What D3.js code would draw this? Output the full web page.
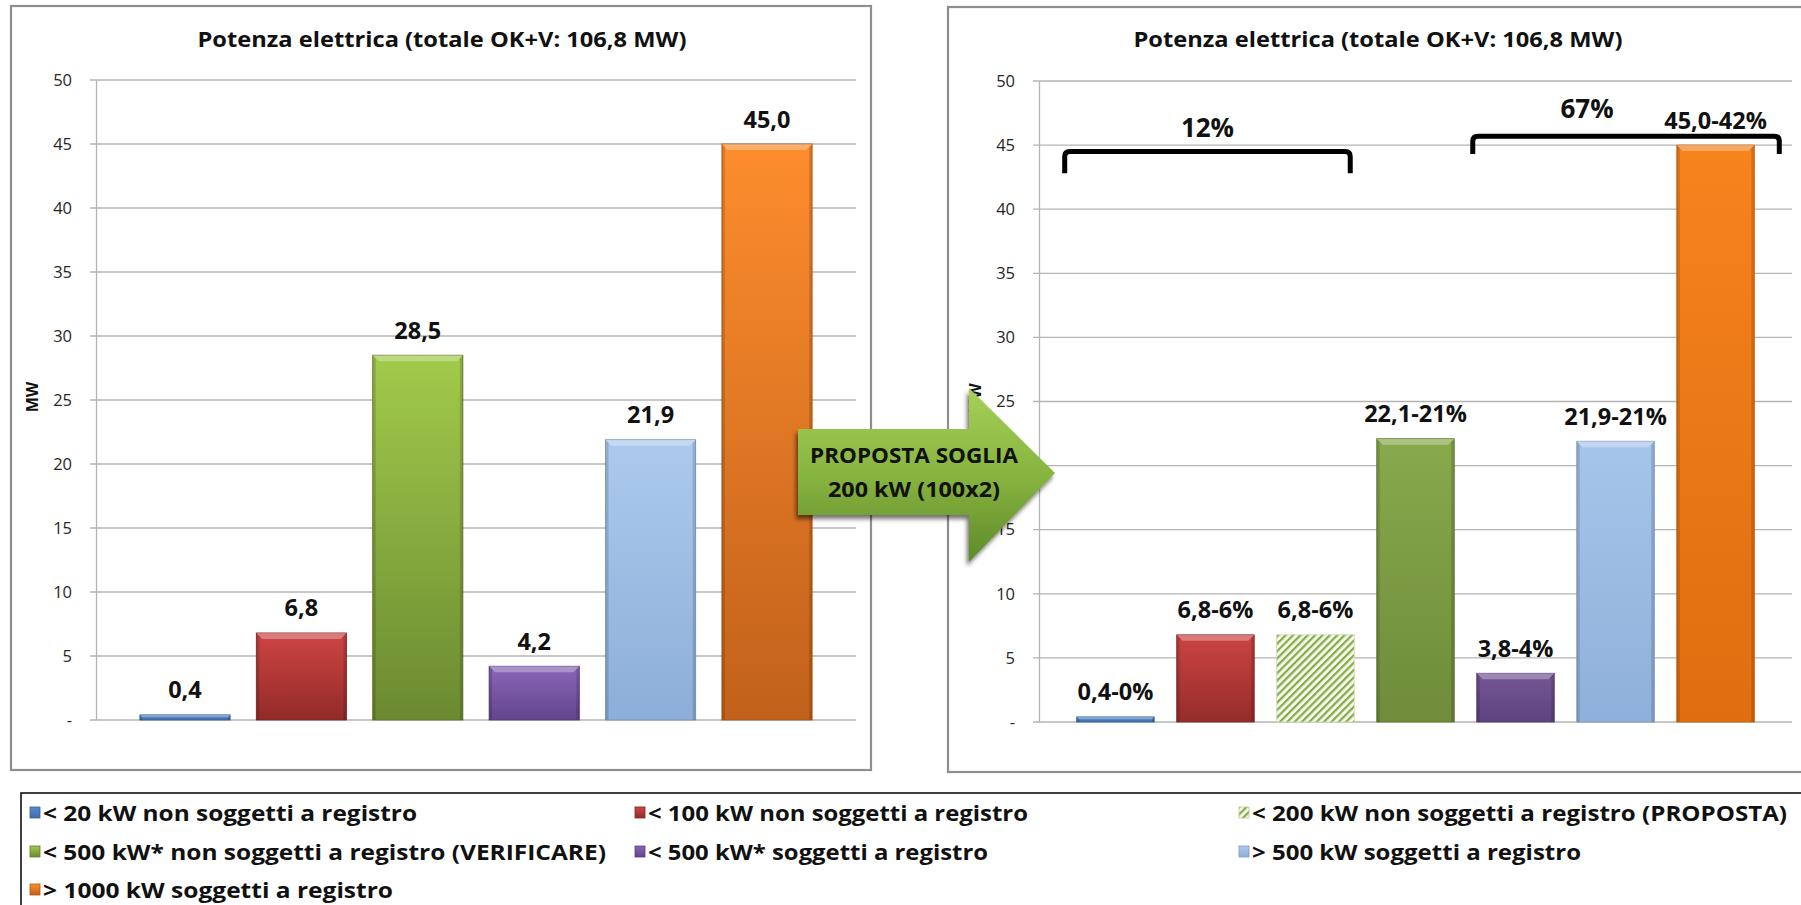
<!DOCTYPE html>
<html>
<head>
<meta charset="utf-8">
<script src="https://cdn.jsdelivr.net/npm/d3@7"></script>
<style>
  html, body { margin: 0; padding: 0; background: #fff; overflow: hidden; }
  svg { display: block; }
  text { font-family: "Open Sans", "Noto Sans", sans-serif; }
</style>
</head>
<body>
<svg id="chart" width="1801" height="905"></svg>
<script>
// ---- data ----
const categories = [
  "< 20 kW non soggetti a registro",
  "< 100 kW non soggetti a registro",
  "< 200 kW non soggetti a registro (PROPOSTA)",
  "< 500 kW* non soggetti a registro (VERIFICARE)",
  "< 500 kW* soggetti a registro",
  "> 500 kW soggetti a registro",
  "> 1000 kW soggetti a registro"
];
const currentCategories = [
  "< 20 kW non soggetti a registro",
  "< 100 kW non soggetti a registro",
  "< 500 kW* non soggetti a registro (VERIFICARE)",
  "< 500 kW* soggetti a registro",
  "> 500 kW soggetti a registro",
  "> 1000 kW soggetti a registro"
];
const currentValues = [0.4, 6.8, 28.5, 4.2, 21.9, 45.0];
const proposedCategories = categories;
const proposedValues = [0.4, 6.8, 6.8, 22.1, 3.8, 21.9, 45.0];
const proposedShares = [0, 6, 6, 21, 4, 21, 42];
const yTickValues = [0, 5, 10, 15, 20, 25, 30, 35, 40, 45, 50];
const chartTitle = "Potenza elettrica (totale OK+V: 106,8 MW)";
const yAxisTitle = "MW";
const groupLabels = ["12%", "67%"];
const arrowLines = ["PROPOSTA SOGLIA", "200 kW (100x2)"];

// ---- styles ----
const HATCHED = categories[2];
const palette = {
  [categories[0]]: { cur: ["#548bd0", "#3f6dab"], pro: ["#548bd0", "#3f6dab"] },
  [categories[1]]: { cur: ["#cd4543", "#922a28"], pro: ["#cb4442", "#952c2a"] },
  [categories[2]]: { cur: ["#9bbb59", "#9bbb59"], pro: ["#9bbb59", "#9bbb59"] },
  [categories[3]]: { cur: ["#a2ca4b", "#6b8a31"], pro: ["#88a94c", "#6e8c3a"] },
  [categories[4]]: { cur: ["#8b66b9", "#62458d"], pro: ["#755696", "#5d437f"] },
  [categories[5]]: { cur: ["#abcaed", "#8daed8"], pro: ["#a6c5ea", "#8fb0da"] },
  [categories[6]]: { cur: ["#fd8d2d", "#c1611b"], pro: ["#f6831e", "#e06d0f"] }
};
const gridColor = "#b4b4b4";
const frameColor = "#8e8e8e";

const fmt = d3.formatLocale({ decimal: ",", thousands: ".", grouping: [3], currency: ["", ""] }).format(".1f");

const svg = d3.select("#chart");
const defs = svg.append("defs");

// gradients for bars
categories.forEach((c, i) => {
  ["cur", "pro"].forEach(k => {
    const g = defs.append("linearGradient")
      .attr("id", `grad-${k}-${i}`)
      .attr("x1", 0).attr("y1", 0).attr("x2", 0).attr("y2", 1);
    g.append("stop").attr("offset", "0%").attr("stop-color", palette[c][k][0]);
    g.append("stop").attr("offset", "100%").attr("stop-color", palette[c][k][1]);
  });
});

// diagonal hatch for the proposed threshold bar
const hatch = defs.append("pattern")
  .attr("id", "hatch")
  .attr("patternUnits", "userSpaceOnUse")
  .attr("width", 5.2).attr("height", 10)
  .attr("patternTransform", "rotate(45)");
hatch.append("rect").attr("width", 5.2).attr("height", 10).attr("fill", "#f7faef");
hatch.append("rect").attr("width", 2.2).attr("height", 10).attr("fill", "#86ab45");

// arrow gradient + shadow
const ag = defs.append("linearGradient").attr("id", "arrowGrad")
  .attr("x1", 0).attr("y1", 0).attr("x2", 0).attr("y2", 1);
ag.append("stop").attr("offset", "0%").attr("stop-color", "#a6d157");
ag.append("stop").attr("offset", "55%").attr("stop-color", "#84b03e");
ag.append("stop").attr("offset", "100%").attr("stop-color", "#5e8a2a");
const sh = defs.append("filter").attr("id", "arrowShadow")
  .attr("x", "-20%").attr("y", "-20%").attr("width", "140%").attr("height", "150%");
sh.append("feDropShadow").attr("dx", -2).attr("dy", 4).attr("stdDeviation", 2.2)
  .attr("flood-color", "#000").attr("flood-opacity", 0.55);

function fillFor(c, key) {
  if (c === HATCHED) return "url(#hatch)";
  return `url(#grad-${key}-${categories.indexOf(c)})`;
}

// ---- one chart panel ----
function drawPanel(cfg) {
  const g = svg.append("g");

  g.append("rect")
    .attr("x", cfg.frame[0]).attr("y", cfg.frame[1])
    .attr("width", cfg.frame[2]).attr("height", cfg.frame[3])
    .attr("fill", "#fff").attr("stroke", frameColor).attr("stroke-width", 2.2);

  const x = d3.scaleBand().domain(cfg.cats)
    .range([cfg.left, cfg.right]).paddingInner(0.225).paddingOuter(0.377);
  const y = d3.scaleLinear().domain([0, 50]).range([cfg.bottom, cfg.top]);

  // horizontal gridlines (with outward tick stubs)
  g.append("g").selectAll("line").data(yTickValues).join("line")
    .attr("x1", cfg.left - 6).attr("x2", cfg.right)
    .attr("y1", d => y(d)).attr("y2", d => y(d))
    .attr("stroke", gridColor).attr("stroke-width", 1.3);

  // value axis
  const axis = g.append("g").attr("transform", `translate(${cfg.left},0)`)
    .call(d3.axisLeft(y).tickValues(yTickValues).tickSize(0).tickPadding(24)
      .tickFormat(d => d === 0 ? "-" : d));
  axis.select(".domain").attr("stroke", gridColor).attr("stroke-width", 1.3);
  axis.selectAll("text").attr("font-size", 16.5).attr("fill", "#262626")
    .style("font-family", "'Open Sans', sans-serif");
  // labels that sit fully under the arrow are not shown
  axis.selectAll(".tick").filter(d => cfg.hiddenTicks.includes(d)).select("text").remove();

  // title
  g.append("text")
    .attr("x", cfg.titleX).attr("y", 47)
    .attr("text-anchor", "middle")
    .attr("font-size", 22).attr("font-weight", 700).attr("fill", "#111")
    .attr("textLength", 489).attr("lengthAdjust", "spacingAndGlyphs")
    .text(chartTitle);

  // y axis title
  g.append("text")
    .attr("transform", `translate(${cfg.left - 64},${(cfg.top + cfg.bottom) / 2 - 3}) rotate(-90)`)
    .attr("text-anchor", "middle").attr("dy", "0.35em")
    .attr("font-size", 16).attr("font-weight", 700).attr("fill", "#111")
    .text(yAxisTitle);

  // bars
  const bw = x.bandwidth();
  const rows = cfg.cats.map((c, i) => ({ c, v: cfg.vals[i], i }));
  const bars = g.append("g").selectAll("g").data(rows).join("g");

  bars.append("rect")
    .attr("x", d => x(d.c)).attr("y", d => y(d.v))
    .attr("width", bw).attr("height", d => y(0) - y(d.v))
    .attr("fill", d => fillFor(d.c, cfg.key))
    .attr("stroke", d => d.c === HATCHED ? "#c9d9ab" : d3.color(palette[d.c][cfg.key][1]).darker(0.4))
    .attr("stroke-width", 0.8);

  const solid = bars.filter(d => d.c !== HATCHED);
  // soft bevel: lighter top face, darker side faces
  solid.append("path")
    .attr("d", d => {
      const x0 = x(d.c), y0 = y(d.v), h = y(0) - y(d.v), b = Math.min(6, h * 0.45);
      return `M${x0},${y0}L${x0 + bw},${y0}L${x0 + bw - b},${y0 + b}L${x0 + b},${y0 + b}Z`;
    })
    .attr("fill", "#fff").attr("opacity", 0.3);
  solid.append("path")
    .attr("d", d => {
      const x0 = x(d.c), y0 = y(d.v), h = y(0) - y(d.v), b = Math.min(3, h * 0.45);
      return `M${x0},${y0}L${x0 + b},${y0 + b}L${x0 + b},${y(0)}L${x0},${y(0)}Z` +
             `M${x0 + bw},${y0}L${x0 + bw - b},${y0 + b}L${x0 + bw - b},${y(0)}L${x0 + bw},${y(0)}Z`;
    })
    .attr("fill", "#000").attr("opacity", 0.14);

  // value labels
  g.append("g").selectAll("text").data(rows).join("text")
    .attr("x", d => x(d.c) + bw / 2)
    .attr("y", d => y(d.v) - 16.5)
    .attr("text-anchor", "middle")
    .attr("font-size", 23.5).attr("font-weight", 700).attr("fill", "#111")
    .text(d => cfg.label(d));

  return { x, y, bw, g };
}

const cur = drawPanel({
  key: "cur", cats: currentCategories, vals: currentValues, hiddenTicks: [],
  frame: [11, 6, 860, 764], left: 96, right: 856, top: 80, bottom: 720, titleX: 442,
  label: d => fmt(d.v)
});

const pro = drawPanel({
  key: "pro", cats: proposedCategories, vals: proposedValues, hiddenTicks: [20],
  frame: [948, 7, 880, 765], left: 1039, right: 1792, top: 81, bottom: 722, titleX: 1378,
  label: d => `${fmt(d.v)}-${proposedShares[d.i]}%`
});

// ---- group brackets on the proposed panel ----
const brackets = [
  { x0: pro.x(proposedCategories[0]) - 12, x1: pro.x(proposedCategories[2]) + pro.bw - 4,
    top: 44.5, leg: 42.8, labelX: 0, labelV: 45.6, text: groupLabels[0] },
  { x0: pro.x(proposedCategories[4]) - 4, x1: pro.x(proposedCategories[6]) + pro.bw + 25,
    top: 45.7, leg: 44.3, labelX: -39, labelV: 47.1, text: groupLabels[1] }
];
const r = 5;
pro.g.append("g").selectAll("path").data(brackets).join("path")
  .attr("d", b => {
    const yt = pro.y(b.top), yl = pro.y(b.leg);
    return `M${b.x0},${yl}L${b.x0},${yt + r}Q${b.x0},${yt} ${b.x0 + r},${yt}` +
           `L${b.x1 - r},${yt}Q${b.x1},${yt} ${b.x1},${yt + r}L${b.x1},${yl}`;
  })
  .attr("fill", "none").attr("stroke", "#000").attr("stroke-width", 5);
pro.g.append("g").selectAll("text").data(brackets).join("text")
  .attr("x", b => (b.x0 + b.x1) / 2 + b.labelX)
  .attr("y", b => pro.y(b.labelV))
  .attr("text-anchor", "middle")
  .attr("font-size", 26).attr("font-weight", 700).attr("fill", "#111")
  .text(b => b.text);

// ---- transition arrow between the two panels ----
const arrow = svg.append("g");
arrow.append("path")
  .attr("d", "M798,429L969,429L969,388L1055,473L969,562L969,515L798,515Z")
  .attr("fill", "url(#arrowGrad)")
  .attr("filter", "url(#arrowShadow)");
arrow.selectAll("text").data(arrowLines).join("text")
  .attr("x", 914)
  .attr("y", (d, i) => 463 + i * 34)
  .attr("text-anchor", "middle")
  .attr("font-size", 21).attr("font-weight", 700).attr("fill", "#111")
  .attr("textLength", (d, i) => i === 0 ? 208 : 172)
  .attr("lengthAdjust", "spacingAndGlyphs")
  .text(d => d);

// ---- legend ----
const legend = svg.append("g");
legend.append("rect")
  .attr("x", 21).attr("y", 793).attr("width", 1800).attr("height", 140)
  .attr("fill", "#fff").attr("stroke", "#111").attr("stroke-width", 1.6);

const legendOrder = [
  categories[0], categories[1], categories[2],
  categories[3], categories[4], categories[5],
  categories[6]
];
const colX = [30, 635, 1239];
const rowY = [813, 852, 890];
const legendWidths = [374, 380, 535, 563, 340, 329, 350];

const items = legend.selectAll("g.item").data(legendOrder).join("g")
  .attr("transform", (d, i) => `translate(${colX[i % 3]},${rowY[Math.floor(i / 3)]})`);
items.append("rect")
  .attr("x", 0).attr("y", -6).attr("width", 10).attr("height", 11)
  .attr("fill", d => d === HATCHED ? "url(#hatch)" : `url(#grad-cur-${categories.indexOf(d)})`)
  .attr("stroke", d => d === HATCHED ? "#b8cc92" : d3.color(palette[d].cur[1]).darker(0.3))
  .attr("stroke-width", 0.8);
items.append("text")
  .attr("x", 13).attr("dy", "0.36em")
  .attr("font-size", 22).attr("font-weight", 700).attr("fill", "#111")
  .attr("textLength", (d, i) => legendWidths[i])
  .attr("lengthAdjust", "spacingAndGlyphs")
  .text(d => d);
</script>
</body>
</html>
